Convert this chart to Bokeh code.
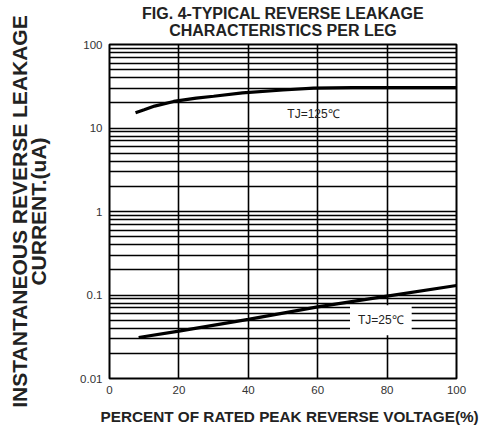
from bokeh.plotting import figure
from bokeh.models import Range1d, FixedTicker, Label, Title, LinearAxis
from bokeh.embed import file_html
from bokeh.resources import INLINE

# ---- data ----
pct_125 = [7.5, 10, 13, 18.5, 25, 30, 38.3, 50, 58.8, 70, 78.7, 90, 100]
cur_125 = [15.2, 16.5, 18.3, 20.8, 22.8, 24.0, 26.3, 28.5, 30.0, 30.4, 30.5, 30.5, 30.5]
pct_25 = [8.4, 20, 40, 60, 80, 100]
cur_25 = [0.031, 0.037, 0.051, 0.072, 0.097, 0.13]
x_ticks = [0, 20, 40, 60, 80, 100]
y_ticks = [0.01, 0.1, 1, 10, 100]
y_tick_labels = ["0.01", "0.1", "1", "10", "100"]
title_lines = ["FIG. 4-TYPICAL REVERSE LEAKAGE", "CHARACTERISTICS PER LEG"]
ylabel_lines = ["INSTANTANEOUS REVERSE LEAKAGE", "CURRENT.(uA)"]
xlabel = "PERCENT OF RATED PEAK REVERSE VOLTAGE(%)"
series_labels = ["TJ=125\u2103", "TJ=25\u2103"]

FONT = "Liberation Sans"
TXT = "#222222"

p = figure(frame_width=347, frame_height=334, y_axis_type="log",
           x_range=Range1d(0, 100), y_range=Range1d(0.01, 100),
           output_backend="svg", toolbar_location=None,
           min_border_left=109, min_border_right=23,
           min_border_top=44, min_border_bottom=40)
p.background_fill_color = "white"
p.border_fill_color = "white"
p.outline_line_color = "black"
p.outline_line_width = 2

minor = [m * d for d in y_ticks[:-1] for m in range(2, 10)]
p.xaxis.ticker = FixedTicker(ticks=x_ticks)
p.yaxis.ticker = FixedTicker(ticks=y_ticks, minor_ticks=minor)
p.yaxis.major_label_overrides = {t: s for t, s in zip(y_ticks, y_tick_labels)}

for ax in (p.xaxis, p.yaxis):
    ax.axis_line_color = None
    ax.major_tick_line_color = None
    ax.minor_tick_line_color = None
    ax.major_tick_out = 0
    ax.minor_tick_out = 0
    ax.major_label_text_font = FONT
    ax.major_label_text_font_size = "11.5px"
    ax.major_label_text_color = "#333333"
    ax.major_label_standoff = 7

# two-line y axis title
p.yaxis.axis_label = "\n".join(ylabel_lines)
p.yaxis.axis_label_text_font = FONT
p.yaxis.axis_label_text_font_style = "bold"
p.yaxis.axis_label_text_font_size = "21px"
p.yaxis.axis_label_text_color = TXT
p.yaxis.axis_label_text_line_height = 0.85
p.yaxis.axis_label_standoff = 27

# two-line chart title, drawn as the label of a bare axis above the frame
top_axis = LinearAxis(ticker=FixedTicker(ticks=[]), axis_line_color=None,
                      major_tick_line_color=None, minor_tick_line_color=None,
                      major_tick_out=0, minor_tick_out=0, major_label_standoff=0,
                      axis_label="\n".join(title_lines), axis_label_standoff=6,
                      axis_label_text_font=FONT, axis_label_text_font_style="bold",
                      axis_label_text_font_size="16px", axis_label_text_color=TXT,
                      axis_label_text_line_height=0.95)
p.add_layout(top_axis, "above")

p.xgrid.grid_line_color = "black"
p.xgrid.grid_line_width = 1.6
p.ygrid.grid_line_color = "black"
p.ygrid.grid_line_width = 1.6
p.ygrid.minor_grid_line_color = "black"
p.ygrid.minor_grid_line_width = 1.6

p.line(pct_125, cur_125, line_color="black", line_width=3.2)
p.line(pct_25, cur_25, line_color="black", line_width=3.2)

p.add_layout(Label(x=58.8, y=14.8, text=series_labels[0], text_font=FONT,
                   text_font_size="12px", text_color=TXT,
                   text_align="center", text_baseline="middle"))
p.add_layout(Label(x=78.2, y=0.05, text=series_labels[1], text_font=FONT,
                   text_font_size="12px", text_color=TXT,
                   text_align="center", text_baseline="middle",
                   background_fill_color="white", padding=8))

# x axis title
p.add_layout(Title(text=xlabel, align="left", offset=-9, text_font=FONT,
                   text_font_style="bold", text_font_size="15.3px", text_color=TXT,
                   standoff=19), "below")

open("out.html", "w").write(file_html(p, INLINE))
